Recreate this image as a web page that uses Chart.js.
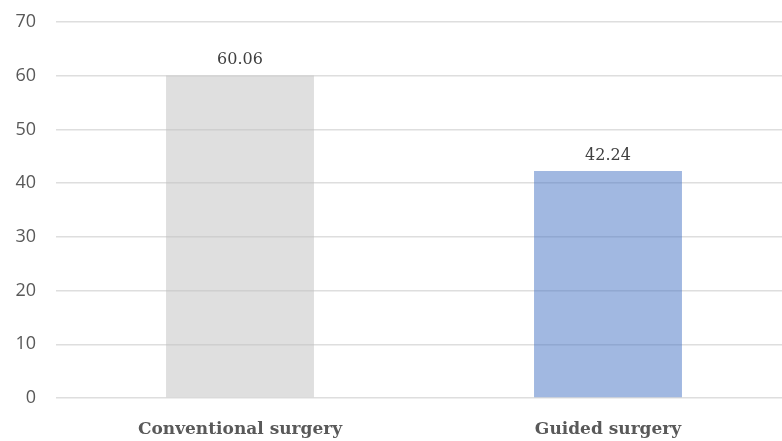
<!DOCTYPE html>
<html>
<head>
<meta charset="utf-8">
<script src="https://cdn.jsdelivr.net/npm/chart.js@4"></script>
<style>
html,body{margin:0;padding:0;background:#fff;overflow:hidden;}
#wrap{width:792px;height:441px;}
</style>
</head>
<body>
<div id="wrap"><canvas id="c" width="792" height="441"></canvas></div>
<script>
const categories = ["Conventional surgery", "Guided surgery"];
const values = [60.06, 42.24];
const valueLabels = ["60.06", "42.24"];
const barColors = ["rgba(191,191,191,0.5)", "rgba(68,114,196,0.5)"];
const yMin = 0, yMax = 70, yStep = 10;

const valueLabelPlugin = {
  id: 'valueLabels',
  afterDatasetsDraw(chart) {
    const ctx = chart.ctx;
    const meta = chart.getDatasetMeta(0);
    ctx.save();
    ctx.font = '16px "DejaVu Serif"';
    ctx.fillStyle = '#404040';
    ctx.textAlign = 'center';
    ctx.textBaseline = 'alphabetic';
    meta.data.forEach((bar, i) => {
      ctx.fillText(valueLabels[i], bar.x, bar.y - 11);
    });
    ctx.restore();
  }
};

new Chart(document.getElementById('c'), {
  type: 'bar',
  data: {
    labels: categories,
    datasets: [{
      data: values,
      backgroundColor: barColors,
      borderWidth: 0,
      barPercentage: 0.402,
      categoryPercentage: 1
    }]
  },
  options: {
    responsive: false,
    animation: false,
    events: [],
    layout: { autoPadding: false, padding: { top: 22, left: 0, right: 0, bottom: 0 } },
    plugins: { legend: { display: false }, tooltip: { enabled: false } },
    scales: {
      x: {
        offset: true,
        grid: { display: false, drawTicks: false },
        border: { display: false },
        ticks: {
          padding: 21,
          color: '#595959',
          font: { family: '"DejaVu Serif"', size: 17, weight: 'bold' },
          maxRotation: 0
        },
        afterFit(scale) { scale.height = 43; scale.paddingLeft = 0; scale.paddingRight = 0; }
      },
      y: {
        min: yMin, max: yMax,
        grid: { color: '#dedede', lineWidth: 1.5, drawTicks: false },
        border: { display: false },
        ticks: {
          stepSize: yStep,
          padding: 20,
          color: '#595959',
          font: { family: '"Open Sans"', size: 18 }
        },
        afterFit(scale) { scale.width = 56; scale.paddingTop = 0; scale.paddingBottom = 0; }
      }
    }
  },
  plugins: [valueLabelPlugin]
});
</script>
</body>
</html>
